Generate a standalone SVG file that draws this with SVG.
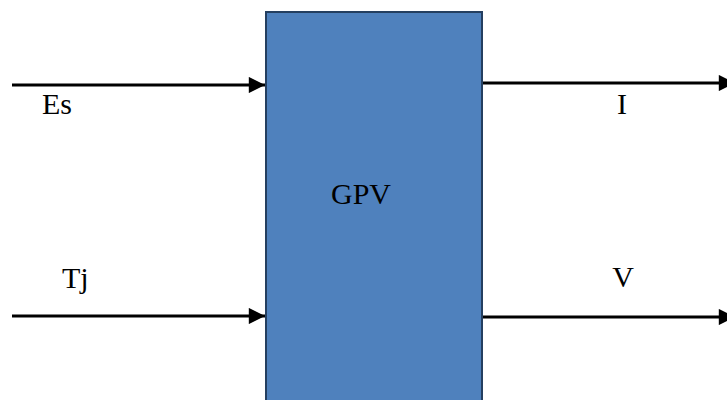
<svg xmlns="http://www.w3.org/2000/svg" width="727" height="400" viewBox="0 0 727 400">
  <style>
    .lbl { font-family: "Liberation Serif", "Times New Roman", serif; font-size: 30px; fill: #000; }
    .wire { stroke: #000; stroke-width: 3; fill: none; }
  </style>
  <defs>
    <marker id="arrow" viewBox="0 0 10 10" refX="10" refY="5" markerWidth="5.7" markerHeight="5.4" orient="auto" markerUnits="strokeWidth">
      <path d="M0,0 L10,5 L0,10 Z" fill="#000"/>
    </marker>
  </defs>
  <rect width="727" height="400" fill="#fff"/>

  <g id="gpv">
    <rect x="266" y="12" width="216" height="400" fill="#4f81bd" stroke="#243f60" stroke-width="2"/>
    <text class="lbl" x="361" y="204" text-anchor="middle">GPV</text>
  </g>

  <g id="connectors">
    <line class="wire" x1="12" y1="85" x2="265" y2="85" marker-end="url(#arrow)"/>
    <line class="wire" x1="12" y1="316" x2="265" y2="316" marker-end="url(#arrow)"/>
    <line class="wire" x1="483" y1="83" x2="735" y2="83" marker-end="url(#arrow)"/>
    <line class="wire" x1="483" y1="317" x2="735" y2="317" marker-end="url(#arrow)"/>
  </g>

  <g id="labels">
    <text class="lbl" x="42" y="114">Es</text>
    <text class="lbl" x="622" y="114" text-anchor="middle">I</text>
    <text class="lbl" x="62" y="288">Tj</text>
    <text class="lbl" x="623" y="287" text-anchor="middle">V</text>
  </g>
</svg>
